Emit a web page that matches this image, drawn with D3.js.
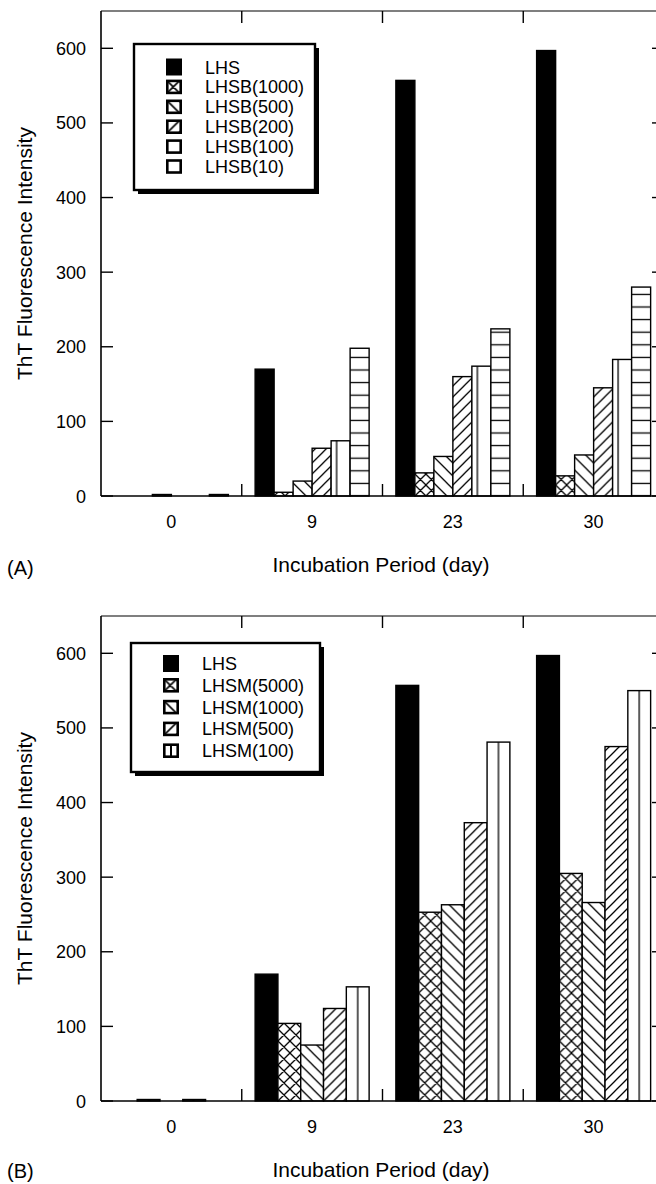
<!DOCTYPE html>
<html>
<head>
<meta charset="utf-8">
<script src="https://cdn.jsdelivr.net/npm/d3@7"></script>
<style>
  html, body { margin: 0; padding: 0; background: #fff; }
  svg { display: block; }
</style>
</head>
<body>
<script>
// Incubation days (x categories) and y-axis ticks
const days = ["0", "9", "23", "30"];
const yTicks = [0, 100, 200, 300, 400, 500, 600];

// Panel A: LHS alone and with LHSB at several concentrations
const seriesA = ["LHS", "LHSB(1000)", "LHSB(500)", "LHSB(200)", "LHSB(100)", "LHSB(10)"];
const lhsA     = [0, 170, 557, 597];
const lhsb1000 = [0, 5, 31, 27];
const lhsb500  = [2, 20, 53, 55];
const lhsb200  = [0, 64, 160, 145];
const lhsb100  = [0, 74, 174, 183];
const lhsb10   = [2, 198, 224, 280];

// Panel B: LHS alone and with LHSM at several concentrations
const seriesB = ["LHS", "LHSM(5000)", "LHSM(1000)", "LHSM(500)", "LHSM(100)"];
const lhsB     = [0, 170, 557, 597];
const lhsm5000 = [2, 104, 253, 305];
const lhsm1000 = [0, 75, 263, 266];
const lhsm500  = [2, 124, 373, 475];
const lhsm100  = [0, 153, 481, 550];

const W = 656, H = 1184;
const FONT = "'Liberation Sans', Arial, Helvetica, sans-serif";

const svg = d3.select("body").append("svg")
  .attr("width", W).attr("height", H)
  .attr("font-family", FONT);
const defs = svg.append("defs");
let patId = 0;

// Build a hatch fill; (ax, ay) anchors the line grid.
function hatch(kind, ax, ay, opt = {}) {
  if (kind === "solid") return "#000";
  if (kind === "blank") return "#fff";
  const id = "hp" + (patId++);
  const sw = opt.sw || 1.2;
  const p = opt.period || 11;
  const pat = defs.append("pattern").attr("id", id)
    .attr("patternUnits", "userSpaceOnUse");
  let d = "";
  if (kind === "back") {
    pat.attr("x", ax).attr("y", ay).attr("width", p).attr("height", p);
    d = `M0,0L${p},${p}M-2,${p - 2}L2,${p + 2}M${p - 2},-2L${p + 2},2`;
  } else if (kind === "fwd") {
    pat.attr("x", ax).attr("y", ay).attr("width", p).attr("height", p);
    d = `M0,${p}L${p},0M-2,2L2,-2M${p - 2},${p + 2}L${p + 2},${p - 2}`;
  } else if (kind === "cross") {
    pat.attr("x", ax).attr("y", ay).attr("width", p).attr("height", p);
    d = `M0,0L${p},${p}M-2,${p - 2}L2,${p + 2}M${p - 2},-2L${p + 2},2` +
        `M0,${p}L${p},0M-2,2L2,-2M${p - 2},${p + 2}L${p + 2},${p - 2}`;
  } else if (kind === "vert") {
    pat.attr("x", ax - p / 2).attr("y", 0).attr("width", p).attr("height", 20);
    d = `M${p / 2},-1V21`;
  } else if (kind === "horiz") {
    pat.attr("x", 0).attr("y", ay - p / 2).attr("width", 20).attr("height", p);
    d = `M-1,${p / 2}H21`;
  }
  pat.append("rect").attr("width", 100).attr("height", 100).attr("fill", "#fff");
  pat.append("path").attr("d", d).attr("stroke", "#000")
    .attr("stroke-width", sw).attr("fill", "none");
  return `url(#${id})`;
}

const left = 101, right = 664;

function drawPanel(cfg) {
  const top = cfg.top, base = cfg.base;
  const g = svg.append("g");

  const x = d3.scaleBand().domain(days).range([left, right]).paddingInner(0).paddingOuter(0);
  const bw = x.bandwidth();
  const groupW = 114;
  const xs = d3.scaleBand().domain(cfg.series.map((_, i) => i))
    .range([(bw - groupW) / 2, (bw + groupW) / 2]).padding(0);
  const y = d3.scaleLinear().domain([0, 650]).range([base, top]);

  // bars
  cfg.series.forEach((name, i) => {
    const vals = cfg.values[i];
    const kind = cfg.fills[i];
    days.forEach((day, j) => {
      const v = vals[j];
      if (v <= 0) return;
      const bx = x(day) + xs(i);
      const by = y(v);
      let fill;
      if (kind === "vert") fill = hatch(kind, bx + cfg.vertOffset, 0, { period: cfg.vertPeriod, sw: 1.3 });
      else if (kind === "horiz") fill = hatch(kind, 0, base - 12.6, { period: 12.6, sw: 1.3 });
      else fill = hatch(kind, bx, base, { period: cfg.diagPeriod[kind] || 11, sw: 1.3 });
      g.append("rect")
        .attr("x", bx).attr("y", by)
        .attr("width", xs.bandwidth()).attr("height", base - by)
        .attr("fill", fill)
        .attr("stroke", "#000").attr("stroke-width", 1.4);
    });
  });

  // frame
  const frame = g.append("g").attr("stroke", "#000").attr("fill", "none");
  frame.append("line").attr("x1", left).attr("x2", right).attr("y1", top).attr("y2", top).attr("stroke-width", 1.2);
  frame.append("line").attr("x1", left).attr("x2", right).attr("y1", base).attr("y2", base).attr("stroke-width", 1.6);
  frame.append("line").attr("x1", left).attr("x2", left).attr("y1", top).attr("y2", base).attr("stroke-width", 1.6);
  frame.append("line").attr("x1", right).attr("x2", right).attr("y1", top).attr("y2", base).attr("stroke-width", 1.6);

  // y ticks (inward, both sides)
  yTicks.forEach(t => {
    frame.append("line").attr("x1", left).attr("x2", left + 12).attr("y1", y(t)).attr("y2", y(t)).attr("stroke-width", 1.4);
    frame.append("line").attr("x1", right - 12).attr("x2", right).attr("y1", y(t)).attr("y2", y(t)).attr("stroke-width", 1.4);
    g.append("text").attr("x", 86).attr("y", y(t) + 6.5)
      .attr("text-anchor", "end").attr("font-size", 18).text(t);
  });

  // category separator ticks
  days.slice(1).forEach(day => {
    const bx = x(day);
    frame.append("line").attr("x1", bx).attr("x2", bx).attr("y1", base).attr("y2", base - 12).attr("stroke-width", 1.4);
    frame.append("line").attr("x1", bx).attr("x2", bx).attr("y1", top).attr("y2", top + 12).attr("stroke-width", 1.4);
  });

  // category labels
  days.forEach(day => {
    g.append("text").attr("x", x(day) + bw / 2).attr("y", base + 32)
      .attr("text-anchor", "middle").attr("font-size", 18).text(day);
  });

  // axis titles
  g.append("text").attr("x", 381).attr("y", base + 76)
    .attr("text-anchor", "middle").attr("font-size", 21).text("Incubation Period (day)");
  g.append("text")
    .attr("transform", `translate(31.5,${(top + base) / 2}) rotate(-90)`)
    .attr("text-anchor", "middle").attr("font-size", 21).text("ThT Fluorescence Intensity");

  // panel label
  g.append("text").attr("x", 7).attr("y", cfg.labelY).attr("font-size", 20).text(cfg.label);

  // legend
  const L = cfg.legend;
  g.append("rect").attr("x", L.x + 4).attr("y", L.y + 4).attr("width", L.w).attr("height", L.h).attr("fill", "#000");
  g.append("rect").attr("x", L.x).attr("y", L.y).attr("width", L.w).attr("height", L.h)
    .attr("fill", "#fff").attr("stroke", "#000").attr("stroke-width", 2.4);
  cfg.series.forEach((name, i) => {
    const cy = L.row0 + i * L.step;
    const kind = cfg.legendFills[i];
    if (kind === "solid") {
      g.append("rect").attr("x", L.sx).attr("y", cy - 8.5).attr("width", 16).attr("height", 17).attr("fill", "#000");
    } else {
      const sx = L.sx + 1.3, sy = cy - 6;
      let fill;
      if (kind === "vert") fill = hatch(kind, sx + 6.7, 0, { period: 40, sw: 2 });
      else fill = hatch(kind, sx, sy + 12, { period: 12, sw: 1.6 });
      g.append("rect").attr("x", sx).attr("y", sy).attr("width", 13.4).attr("height", 12)
        .attr("fill", fill).attr("stroke", "#000").attr("stroke-width", 2.6);
    }
    g.append("text").attr("x", L.tx).attr("y", cy + 6.5).attr("font-size", 18).text(name);
  });
}

drawPanel({
  top: 11, base: 496,
  series: seriesA,
  values: [lhsA, lhsb1000, lhsb500, lhsb200, lhsb100, lhsb10],
  fills: ["solid", "cross", "back", "fwd", "vert", "horiz"],
  legendFills: ["solid", "cross", "back", "fwd", "blank", "blank"],
  diagPeriod: { cross: 11, back: 13, fwd: 11 },
  vertOffset: 5.5, vertPeriod: 14,
  label: "(A)", labelY: 575,
  legend: { x: 134, y: 44, w: 181, h: 146, row0: 67, step: 19.9, sx: 166, tx: 205 }
});

drawPanel({
  top: 616, base: 1101,
  series: seriesB,
  values: [lhsB, lhsm5000, lhsm1000, lhsm500, lhsm100],
  fills: ["solid", "cross", "back", "fwd", "vert"],
  legendFills: ["solid", "cross", "back", "fwd", "vert"],
  diagPeriod: { cross: 12, back: 12, fwd: 10 },
  vertOffset: 11.4, vertPeriod: 40,
  label: "(B)", labelY: 1178,
  legend: { x: 131, y: 643, w: 189, h: 129, row0: 663.5, step: 21.8, sx: 163, tx: 202 }
});
</script>
</body>
</html>
